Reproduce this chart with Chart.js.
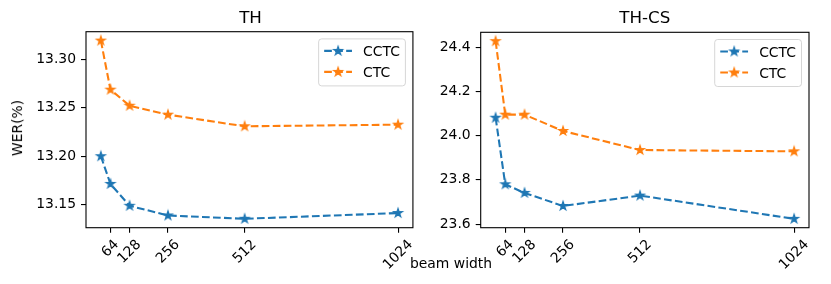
<!DOCTYPE html>
<html>
<head>
<meta charset="utf-8">
<script src="https://cdn.jsdelivr.net/npm/chart.js@4/dist/chart.umd.min.js"></script>
<style>
  body { margin: 0; background: #fff; }
  #wrap { position: relative; width: 831px; height: 284px; font-family: "DejaVu Sans", sans-serif; color: #000; }
  canvas { position: absolute; top: 0; }
  .txt { position: absolute; line-height: 1; white-space: nowrap; }
</style>
</head>
<body>
<div id="wrap">
  <canvas id="thChart" width="420" height="284" style="left:0"></canvas>
  <canvas id="thcsChart" width="411" height="284" style="left:420px"></canvas>
  <div class="txt" style="left:250.5px; top:9.2px; font-size:16.7px; transform:translateX(-50%)">TH</div>
  <div class="txt" style="left:644.8px; top:9.2px; font-size:16.7px; transform:translateX(-50%)">TH-CS</div>
  <div class="txt" style="left:451px; top:256.5px; font-size:13.9px; transform:translateX(-50%)">beam width</div>
  <div class="txt" style="left:17.5px; top:127.5px; font-size:13.9px; transform:translate(-50%,-50%) rotate(-90deg)">WER(%)</div>
</div>
<script>
// beam widths tried, and the ones labelled on the axis
const beamWidths = [32, 64, 128, 256, 512, 1024];
const beamTicks = [64, 128, 256, 512, 1024];

// WER(%) on TH
const thCCTC = [13.200, 13.1715, 13.149, 13.139, 13.1356, 13.1415];
const thCTC = [13.319, 13.2685, 13.252, 13.2428, 13.2308, 13.2325];
const thTicks = [13.15, 13.20, 13.25, 13.30];

// WER(%) on TH-CS
const thcsCCTC = [24.081, 23.780, 23.741, 23.682, 23.729, 23.624];
const thcsCTC = [24.427, 24.095, 24.095, 24.021, 23.935, 23.929];
const thcsTicks = [23.6, 23.8, 24.0, 24.2, 24.4];

const BLUE = '#1f77b4';
const ORANGE = '#ff7f0e';
const EM = 13.9;
const FONT = { family: 'DejaVu Sans', size: EM };

function makeStar(color) {
    const c = document.createElement('canvas');
    c.width = 14;
    c.height = 14;
    const ctx = c.getContext('2d');
    ctx.translate(7, 7);
    ctx.beginPath();
    for (let i = 0; i < 10; i++) {
        const r = i % 2 === 0 ? 4.3 : 4.3 * 0.382;
        const a = -Math.PI / 2 + i * Math.PI / 5;
        ctx.lineTo(r * Math.cos(a), r * Math.sin(a));
    }
    ctx.closePath();
    ctx.fillStyle = color;
    ctx.fill();
    ctx.strokeStyle = color;
    ctx.lineWidth = 1.4;
    ctx.stroke();
    return c;
}

// matplotlib style 5% margins
function padRange(values, frac) {
    const lo = Math.min(...values), hi = Math.max(...values);
    const m = (hi - lo) * frac;
    return [lo - m, hi + m];
}

const frame = {
    id: 'frame',
    afterDatasetsDraw(chart) {
        const a = chart.chartArea;
        const ctx = chart.ctx;
        ctx.save();
        ctx.strokeStyle = '#000';
        ctx.lineWidth = 1.1;
        ctx.strokeRect(a.left, a.top, a.right - a.left, a.bottom - a.top);
        ctx.restore();
    }
};

// rotated x labels centred under their tick, like matplotlib rotation=45
const centredXLabels = {
    id: 'centredXLabels',
    afterDraw(chart) {
        const sx = chart.scales.x;
        const ctx = chart.ctx;
        const top = chart.chartArea.bottom + 9.8;
        const s = Math.SQRT1_2;
        ctx.save();
        ctx.font = EM + 'px "DejaVu Sans"';
        ctx.fillStyle = '#000';
        ctx.textAlign = 'center';
        ctx.textBaseline = 'alphabetic';
        beamTicks.forEach(v => {
            const label = String(v);
            const w = ctx.measureText(label).width;
            const boxH = (w + EM) * s;
            ctx.save();
            ctx.translate(sx.getPixelForValue(v), top + boxH / 2);
            ctx.rotate(-Math.PI / 4);
            ctx.fillText(label, 0, 0.265 * EM);
            ctx.restore();
        });
        ctx.restore();
    }
};

const mplLegend = {
    id: 'mplLegend',
    afterDraw(chart) {
        const a = chart.chartArea;
        const ctx = chart.ctx;
        ctx.save();
        ctx.font = EM + 'px "DejaVu Sans"';
        const sets = chart.data.datasets;
        const tw = Math.max(...sets.map(d => ctx.measureText(d.label).width));
        const w = 0.4 * EM + 2 * EM + 0.8 * EM + tw + 0.4 * EM;
        const h = 47;
        const x0 = a.right - 7.5 - w;
        const y0 = a.top + 7.2;
        ctx.beginPath();
        ctx.roundRect(x0, y0, w, h, 3);
        ctx.fillStyle = 'rgba(255,255,255,0.8)';
        ctx.fill();
        ctx.strokeStyle = 'rgba(204,204,204,0.8)';
        ctx.lineWidth = 1;
        ctx.stroke();
        sets.forEach((d, i) => {
            const cy = y0 + 12 + i * 21;
            const hx = x0 + 0.4 * EM;
            ctx.beginPath();
            ctx.setLineDash([7.7, 3.3]);
            ctx.strokeStyle = d.borderColor;
            ctx.lineWidth = 2.08;
            ctx.moveTo(hx, cy);
            ctx.lineTo(hx + 2 * EM, cy);
            ctx.stroke();
            ctx.setLineDash([]);
            const st = d.pointStyle;
            ctx.drawImage(st, hx + EM - st.width / 2, cy - st.height / 2);
            ctx.fillStyle = '#000';
            ctx.fillText(d.label, hx + 2.8 * EM, cy + 5);
        });
        ctx.restore();
    }
};

function buildChart(id, cctc, ctc, yTicks, decimals, yWidth, pad) {
    const [ymin, ymax] = padRange(cctc.concat(ctc), 0.05);
    const [xmin, xmax] = padRange(beamWidths, 0.05);
    const ds = (label, data, color) => ({
        label: label,
        data: beamWidths.map((b, i) => ({ x: b, y: data[i] })),
        borderColor: color,
        backgroundColor: color,
        borderWidth: 2.08,
        borderDash: [7.7, 3.3],
        pointStyle: makeStar(color),
        pointRadius: 5,
        tension: 0
    });
    return new Chart(document.getElementById(id), {
        type: 'line',
        data: {
            datasets: [ds('CCTC', cctc, BLUE), ds('CTC', ctc, ORANGE)]
        },
        options: {
            responsive: false,
            animation: false,
            layout: { padding: pad },
            plugins: { legend: { display: false }, tooltip: { enabled: false } },
            scales: {
                x: {
                    type: 'linear',
                    min: xmin,
                    max: xmax,
                    border: { display: false },
                    grid: { drawOnChartArea: false, drawTicks: true, tickLength: 5, color: '#000', lineWidth: 1.1 },
                    ticks: { display: false },
                    afterBuildTicks: s => { s.ticks = beamTicks.map(v => ({ value: v })); },
                    afterFit: s => {
                        s.height = 56.3;
                        s.paddingLeft = 0; s.paddingRight = 0; s.paddingTop = 0; s.paddingBottom = 0;
                    }
                },
                y: {
                    min: ymin,
                    max: ymax,
                    border: { display: false },
                    grid: { drawOnChartArea: false, drawTicks: true, tickLength: 5, color: '#000', lineWidth: 1.1 },
                    ticks: {
                        font: FONT, color: '#000', padding: 5,
                        callback: v => v.toFixed(decimals)
                    },
                    afterBuildTicks: s => { s.ticks = yTicks.map(v => ({ value: v })); },
                    afterFit: s => {
                        s.width = yWidth;
                        s.paddingLeft = 0; s.paddingRight = 0; s.paddingTop = 0; s.paddingBottom = 0;
                    }
                }
            }
        },
        plugins: [frame, centredXLabels, mplLegend]
    });
}

buildChart('thChart', thCCTC, thCTC, thTicks, 2, 86, { left: 0, right: 5, top: 31.7, bottom: 0 });
buildChart('thcsChart', thcsCCTC, thcsCTC, thcsTicks, 1, 60.7, { left: 0, right: 22, top: 32.3, bottom: 0 });
</script>
</body>
</html>
